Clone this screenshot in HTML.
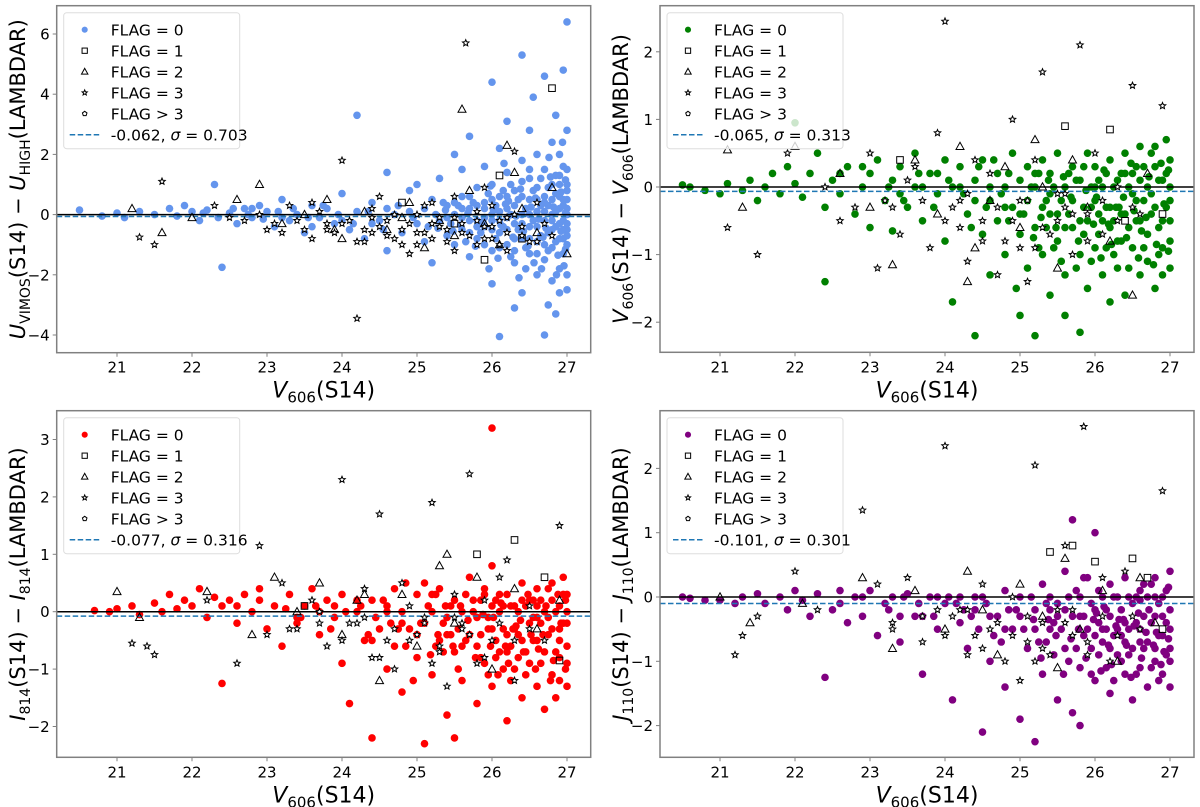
<!DOCTYPE html>
<html><head><meta charset="utf-8"><style>
html,body{margin:0;padding:0;background:#fff;}
svg{display:block;font-family:"DejaVu Sans","Liberation Sans",sans-serif;}
</style></head><body>
<svg id="fig" width="1200" height="807" viewBox="0 0 1200 807" xmlns="http://www.w3.org/2000/svg"></svg>
<script>
// ---------- DATA (flat [x,y,x,y,...] arrays) ----------
const xTicks = [21,22,23,24,25,26,27];
const uTicks = [-4,-2,0,2,4,6];
const vTicks = [-2,-1,0,1,2];
const iTicks = [-2,-1,0,1,2,3];
const jTicks = [-2,-1,0,1,2];
const means = [-0.062,-0.065,-0.077,-0.101];
const sigmas = [0.703,0.313,0.316,0.301];

const uFlag0 = [20.5,0.15,20.8,-0.05,21.0,0.05,21.1,-0.1,21.3,0.1,21.5,0.0,21.7,0.2,21.8,-0.05,21.9,0.3,22.0,0.1,22.1,-0.2,22.2,0.15,22.3,1.0,22.4,-1.75,22.5,0.05,22.6,-0.3,22.7,0.2,22.8,-0.1,22.9,0.3,23.0,0.1,23.1,-0.4,23.2,0.5,23.3,-0.2,23.4,0.0,23.5,-0.6,23.6,0.3,23.7,-0.1,23.8,0.2,23.9,-0.3,24.0,0.7,24.1,-0.5,24.2,0.1,24.2,3.3,24.3,-0.8,24.4,0.4,24.5,-0.2,24.6,1.4,24.6,-1.2,24.7,0.0,24.8,-0.6,24.9,0.8,25.0,-0.3,25.0,1.0,25.1,0.2,25.1,-0.9,25.2,-1.6,25.2,0.5,25.3,-0.2,25.3,1.2,25.4,-0.7,25.4,0.3,25.5,2.0,25.5,-1.0,25.5,0.0,25.6,0.6,25.6,-0.5,25.6,1.5,25.7,-1.4,25.7,0.2,25.7,2.6,25.8,-0.2,25.8,0.9,25.8,-0.8,25.9,1.6,25.9,-0.4,25.9,0.4,26.0,4.4,26.0,-1.2,26.0,0.0,26.0,1.0,26.0,-2.3,26.1,-4.05,26.1,0.6,26.1,-0.6,26.1,2.2,26.2,0.2,26.2,-1.0,26.2,1.4,26.2,3.1,26.3,-0.3,26.3,0.8,26.3,-1.6,26.3,-3.1,26.4,5.3,26.4,0.0,26.4,1.8,26.4,-0.8,26.4,-2.6,26.5,0.5,26.5,-0.4,26.5,1.2,26.5,-1.3,26.5,2.8,26.55,3.9,26.6,0.1,26.6,-0.9,26.6,0.9,26.6,-2.0,26.6,2.0,26.7,-0.2,26.7,0.6,26.7,-1.5,26.7,1.5,26.7,-4.0,26.7,4.6,26.75,-0.6,26.75,0.3,26.75,-3.0,26.8,1.0,26.8,-1.1,26.8,0.0,26.8,2.4,26.8,-2.2,26.85,3.3,26.85,-0.4,26.85,0.7,26.85,-3.3,26.9,-1.8,26.9,1.3,26.9,-0.8,26.9,0.2,26.9,2.0,26.9,-2.6,26.95,-0.2,26.95,0.5,26.95,-1.3,26.95,1.6,26.95,4.8,27.0,6.4,27.0,0.0,27.0,-1.0,27.0,1.0,27.0,-2.0,27.0,-2.5,27.0,2.8,27.0,0.5,27.0,-0.5,25.6,-0.1,25.7,-0.6,25.7,0.6,25.8,0.3,25.9,-1.0,25.9,-0.1,26.0,0.5,26.0,-0.5,26.1,0.1,26.1,-0.2,26.2,-0.5,26.2,0.6,26.3,0.3,26.3,-0.8,26.4,0.6,26.4,-0.3,26.5,0.0,26.5,-0.8,26.6,0.5,26.6,-0.4,26.7,0.1,26.7,-1.0,26.8,0.5,26.8,-0.5,26.9,-0.3,26.9,0.6,27.0,0.2,27.0,-0.3,27.0,1.5,26.95,-0.8,26.85,1.3,26.65,1.2,26.45,-1.8,26.25,-1.4];
const uFlag0b = [22.15,0.05,22.35,-0.1,22.55,0.2,22.75,0.0,22.95,-0.15,23.15,0.1,23.35,0.2,23.55,-0.1,23.75,0.3,23.95,0.0,24.15,-0.3,24.35,0.1,24.55,-0.5,24.75,0.3,24.95,-0.1,25.15,-0.4,25.25,0.0,25.35,0.4,25.45,-0.3,25.55,0.3,25.65,-0.9,25.75,0.4,25.85,-0.6,25.95,0.7,26.05,-0.8,26.05,0.3,26.15,0.8,26.15,-0.4,26.25,0.0,26.25,1.0,26.35,-0.5,26.35,0.5,26.45,0.2,26.45,-1.1,26.55,-0.2,26.55,0.8,26.65,-0.7,26.65,0.3,26.75,0.9,26.75,-1.2,26.85,0.1,26.85,-0.9,26.95,0.3,26.95,-0.5,27.0,-0.7,27.0,0.8,26.9,1.0,26.8,-0.2,26.7,0.4,26.6,-1.3,26.5,1.5,26.4,1.1,26.3,-1.2,26.2,-0.1,26.1,-1.1,26.0,-0.2,25.9,0.2,25.8,-0.4,25.7,-0.2,25.6,0.2,25.5,0.4,25.4,-0.1,24.9,0.1,24.6,0.2,24.4,-0.3,24.0,-0.2,23.6,-0.4,23.2,-0.1,22.8,0.2];
const uFlag0c = [26.02,0.15,26.12,-0.35,26.22,0.45,26.32,-0.05,26.42,-0.55,26.52,0.25,26.62,-0.15,26.72,-0.45,26.82,0.25,26.92,-0.55,26.98,0.05,26.98,-1.15,26.98,1.15,26.88,-1.35,26.78,1.25,26.68,-0.75,26.58,0.55,26.48,-1.05,26.38,0.85,26.28,-0.75,26.18,0.35,26.08,-1.45,25.98,0.95,25.88,-0.25,25.78,-1.05,25.68,0.05,25.58,-0.35,25.48,-0.55,25.38,0.15,25.28,-0.45,26.92,0.75,26.96,-1.7,26.86,-2.0,26.76,1.9,26.66,-1.8,26.56,-1.6,26.36,-2.1,26.16,1.7,25.96,-1.8,26.94,2.4];
const uFlag1 = [24.8,0.4,25.5,-0.3,26.1,1.3,26.4,-0.8,26.8,4.2,25.9,-1.5];
const uFlag2 = [21.2,0.2,21.6,-0.6,22.0,-0.1,22.6,0.5,22.9,1.0,23.2,-0.3,23.5,0.0,23.8,0.5,24.0,-0.8,24.3,0.1,24.6,-0.5,24.9,0.4,25.1,-1.1,25.3,-0.2,25.5,-0.7,25.7,0.8,25.9,-0.3,26.1,-1.0,26.2,2.3,26.4,0.2,26.6,-0.6,26.8,0.9,27.0,-1.3,24.8,-0.1,25.6,3.5,26.3,1.4,23.9,-0.5];
const uFlag3 = [21.6,1.1,21.3,-0.75,21.5,-1.0,22.3,0.3,22.5,-0.1,22.9,0.0,23.1,-0.3,23.3,0.3,23.5,-0.5,23.7,0.1,23.9,-0.6,24.0,1.8,24.1,-0.2,24.2,-3.45,24.3,-0.9,24.4,0.2,24.5,-0.4,24.6,-0.7,24.7,0.0,24.8,-1.0,24.9,-0.3,25.0,-0.6,25.1,0.3,25.2,-0.8,25.3,-0.1,25.4,-0.5,25.5,0.6,25.5,-1.2,25.6,-0.3,25.65,5.7,25.7,-0.7,25.8,0.1,25.8,-1.0,25.9,-0.4,26.0,-0.8,26.0,0.3,26.1,-0.2,26.2,-0.6,26.2,-1.2,26.3,0.0,26.4,-0.4,26.5,-0.9,26.6,0.4,26.7,-0.3,26.8,-0.7,24.5,0.6,23.8,-0.3,24.9,-1.3,25.3,-0.4,24.4,-0.6,23.6,0.4,24.7,-0.8,25.9,0.9,26.3,2.1,25.2,0.4,23.0,-0.5,22.7,-0.2];
const uFlag3b = [23.2,-0.6,23.4,-0.2,23.6,-0.8,23.8,-0.5,24.0,-0.3,24.2,-0.9,24.4,-0.1,24.6,-0.2,24.8,-0.5,25.0,-1.0,25.0,0.0,25.2,-0.3,25.4,-0.9,25.6,-0.6,25.8,-0.2,26.0,-0.4,26.2,-0.1,26.4,-0.7,26.6,-0.9,25.5,-0.1,24.3,-0.5,25.1,-0.6,25.9,-0.8,26.1,-1.0];

const vFlag0 = [20.5,0.03,20.6,0.0,20.8,-0.05,21.0,-0.1,21.1,0.05,21.3,-0.05,21.4,0.1,21.5,-0.2,21.6,0.0,21.7,0.2,21.8,-0.1,21.9,0.3,22.0,0.05,22.0,0.95,22.1,-0.15,22.2,0.2,22.3,0.5,22.4,-0.3,22.4,-1.4,22.5,0.1,22.6,-0.1,22.7,0.3,22.8,-0.4,22.9,0.0,23.0,0.2,23.0,-0.6,23.1,0.4,23.2,-0.2,23.3,0.1,23.3,-0.65,23.4,0.3,23.5,-0.3,23.6,0.0,23.6,0.5,23.7,-0.5,23.8,0.2,23.9,-0.1,24.0,0.4,24.0,-0.8,24.1,-1.7,24.1,0.0,24.2,0.3,24.3,-0.4,24.4,0.1,24.4,-2.2,24.5,-0.7,24.5,0.4,24.6,-0.2,24.6,-1.3,24.7,0.2,24.7,-0.5,24.8,-1.0,24.8,0.0,24.9,0.5,24.9,-0.3,25.0,-1.9,25.0,-0.7,25.0,0.1,25.1,-1.2,25.1,0.3,25.1,-0.2,25.2,-2.2,25.2,-0.6,25.2,0.0,25.3,-1.0,25.3,0.4,25.3,-0.3,25.4,-1.6,25.4,-0.1,25.4,0.2,25.5,-0.8,25.5,0.5,25.5,-0.4,25.6,-1.3,25.6,0.0,25.6,-1.9,25.7,-0.6,25.7,0.3,25.7,-0.2,25.8,-2.15,25.8,-1.0,25.8,0.1,25.9,-0.5,25.9,0.5,25.9,-1.5,26.0,-0.2,26.0,-0.9,26.0,0.3,26.1,-1.3,26.1,0.0,26.1,-0.5,26.2,0.4,26.2,-1.7,26.2,-0.3,26.3,-0.8,26.3,0.1,26.3,-1.2,26.4,-0.4,26.4,0.5,26.4,-1.6,26.5,-0.1,26.5,-0.9,26.5,0.2,26.6,-1.3,26.6,-0.5,26.6,0.6,26.7,0.0,26.7,-0.7,26.7,-1.1,26.8,0.3,26.8,-0.3,26.8,-1.5,26.9,-0.9,26.9,0.1,26.9,-0.5,27.0,0.4,27.0,-0.2,27.0,-0.8,27.0,-1.2,26.95,0.7,26.85,-1.0,26.75,0.5,26.65,-0.2,26.55,0.3,26.45,-0.6,26.35,0.2,26.25,-0.5,26.15,0.2,26.05,-0.4,25.95,0.0,25.85,-0.3,25.75,-1.2,25.65,0.2,25.45,-0.9,25.35,-0.6,24.95,-1.5,24.85,-0.5,24.65,0.4];
const vFlag0b = [23.25,0.0,23.45,-0.2,23.65,0.2,23.85,-0.3,24.05,0.1,24.25,-0.1,24.35,-0.6,24.45,0.3,24.55,-0.3,24.75,-0.1,24.85,0.2,25.05,-0.4,25.15,0.0,25.25,-0.9,25.25,0.2,25.35,-0.2,25.45,0.0,25.55,-0.2,25.55,-1.1,25.65,-0.4,25.75,0.1,25.85,-0.7,25.85,0.3,25.95,-0.3,25.95,-1.1,26.05,0.1,26.05,-0.7,26.15,-0.3,26.15,-0.9,26.25,0.0,26.25,-1.0,26.35,-0.4,26.35,-0.8,26.45,0.0,26.45,-1.2,26.55,-0.5,26.55,-0.2,26.65,0.3,26.65,-0.9,26.75,-0.4,26.75,-0.1,26.85,0.1,26.85,-0.6,26.95,-0.3,26.95,0.2,27.0,0.0,27.0,-0.5,26.9,-1.3,26.8,0.6,26.6,0.1,26.4,0.2,26.2,-0.6,26.0,0.0,25.8,-0.5,25.6,-0.6,25.4,-0.4,25.2,0.2,25.0,-0.4,24.8,-0.3,24.6,0.0,24.4,-0.2,24.2,0.0,23.9,0.2,23.7,0.0,23.4,-0.1,22.9,0.3,22.6,0.2];
const vFlag0c = [26.02,-0.15,26.12,0.25,26.22,-0.85,26.32,-0.3,26.42,-0.75,26.52,-0.35,26.62,-0.65,26.72,0.15,26.82,-0.85,26.92,-0.25,26.98,-0.95,26.98,0.25,26.88,0.35,26.78,-1.15,26.68,-0.45,26.58,-1.05,26.48,0.35,26.38,-0.15,26.28,-0.3,26.18,-0.55,26.08,-1.05,25.98,-0.55,25.88,-0.05,25.78,-0.8,25.68,-0.15,25.58,0.15,25.48,-0.6,25.38,0.1,25.28,-0.45,25.18,-0.75];
const vFlag1 = [23.4,0.4,25.6,0.9,26.2,0.85,26.4,-0.5,26.9,-0.4];
const vFlag2 = [21.1,0.55,21.3,-0.3,22.0,0.6,22.6,0.2,23.0,-0.3,23.3,-1.15,23.6,0.4,23.9,-0.4,24.2,0.6,24.4,-0.9,24.6,-0.2,24.8,0.3,25.0,-0.6,25.2,0.7,25.5,-1.2,25.7,0.4,25.9,-0.3,26.2,-0.8,26.5,-1.6,26.7,0.2,24.3,-1.4,25.3,0.0];
const vFlag3 = [21.5,-1.0,21.1,-0.6,21.9,0.5,22.4,0.0,22.8,-0.3,23.0,0.5,23.2,-0.2,23.4,-0.7,23.6,0.3,23.8,-0.9,23.9,0.8,24.0,2.45,24.1,-0.3,24.3,-1.1,24.5,-0.5,24.6,0.2,24.8,-0.8,24.9,1.0,25.0,-0.2,25.1,-1.4,25.2,0.4,25.3,1.7,25.4,-0.7,25.6,-0.1,25.7,-1.0,25.8,2.1,25.9,-0.4,26.0,0.5,26.1,-0.7,26.3,0.0,26.5,1.5,26.6,-0.4,26.9,1.2,24.2,-0.6,24.7,-1.3,23.5,0.1,25.5,-0.5,24.4,0.4,23.1,-1.2,22.6,-0.5,25.0,-0.9];
const vFlag3b = [23.3,-0.3,23.7,-0.2,24.0,-0.5,24.2,-0.2,24.5,-0.8,24.7,-0.3,24.9,-0.5,25.1,-0.2,25.3,-0.6,25.5,-0.1,25.7,-0.4,25.9,-0.8,26.1,-0.2,26.3,-0.5,26.5,-0.3,24.3,-0.1,25.2,-0.9,25.6,-0.3];

const iFlag0 = [20.7,0.02,20.9,0.0,21.0,0.05,21.2,0.1,21.3,-0.05,21.5,0.15,21.6,0.0,21.7,0.3,21.8,0.05,21.9,0.2,22.0,0.1,22.1,0.4,22.2,-0.1,22.3,0.25,22.4,-1.25,22.4,0.1,22.5,0.2,22.6,-0.2,22.7,0.3,22.8,0.0,22.9,0.2,23.0,-0.3,23.1,0.1,23.2,-0.6,23.3,0.3,23.4,-0.2,23.5,0.1,23.6,0.4,23.7,-0.4,23.8,0.2,23.9,-0.1,24.0,0.3,24.0,-0.9,24.1,-1.6,24.2,0.0,24.3,-0.5,24.4,-2.2,24.4,0.2,24.5,-0.3,24.6,-1.0,24.6,0.1,24.7,0.4,24.7,-0.6,24.8,-1.4,24.8,0.0,24.9,-0.3,25.0,0.3,25.0,-0.8,25.1,-2.3,25.1,-0.2,25.1,0.5,25.2,-1.1,25.2,0.0,25.3,-0.5,25.3,0.4,25.4,-1.8,25.4,-0.1,25.5,-2.2,25.5,-0.7,25.5,0.2,25.6,-1.2,25.6,0.0,25.7,-0.4,25.7,0.6,25.8,-1.6,25.8,-0.1,25.9,0.3,25.9,-0.9,26.0,3.2,26.0,-0.3,26.0,0.8,26.0,-1.3,26.1,0.0,26.1,-0.7,26.2,-1.9,26.2,0.3,26.2,-0.4,26.3,-1.0,26.3,0.1,26.4,-0.5,26.4,0.5,26.4,-1.5,26.5,-0.2,26.5,-0.9,26.5,0.2,26.6,-1.3,26.6,-0.5,26.6,0.4,26.7,0.0,26.7,-0.7,26.7,-1.7,26.8,0.2,26.8,-0.3,26.8,-1.1,26.9,-0.8,26.9,0.1,26.9,-0.5,27.0,0.3,27.0,-0.2,27.0,-0.9,27.0,-1.3,26.95,0.6,26.85,-1.5,26.75,0.4,26.65,-0.2,26.55,0.2,26.45,-0.7,26.35,0.0,26.25,-0.6,26.15,0.1,26.05,-0.5,25.95,-0.1,25.85,-0.4,25.75,0.0,25.65,0.3,25.45,-0.4,25.35,-0.7,24.95,-1.2,24.85,0.5,24.65,-0.2,26.3,-0.3,26.6,-0.1,26.9,-0.3,25.9,0.4,26.1,0.3];
const iFlag0b = [23.25,0.05,23.45,-0.1,23.65,0.1,23.85,-0.3,24.05,0.0,24.25,0.1,24.35,-0.4,24.45,-0.1,24.55,0.2,24.75,-0.3,24.85,-0.6,25.05,-0.2,25.15,0.1,25.25,-0.6,25.25,0.3,25.35,-0.2,25.45,0.1,25.55,-0.3,25.55,-1.0,25.65,-0.5,25.75,0.2,25.85,-0.8,25.85,0.2,25.95,-0.3,25.95,-1.1,26.05,0.2,26.05,-0.8,26.15,-0.3,26.15,-1.0,26.25,0.1,26.25,-1.2,26.35,-0.4,26.35,-0.8,26.45,0.1,26.45,-1.1,26.55,-0.5,26.55,-0.1,26.65,0.2,26.65,-0.9,26.75,-0.4,26.75,-0.1,26.85,0.0,26.85,-0.7,26.95,-0.2,26.95,0.3,27.0,0.0,27.0,-0.6,26.9,-1.2,26.8,0.5,26.6,0.1,26.4,0.2,26.2,-0.7,26.0,0.1,25.8,-0.6,25.6,-0.6,25.4,-0.4,25.2,0.3,25.0,-0.4,24.8,-0.2,24.6,0.0,24.4,-0.5,24.2,0.2,23.9,0.1,23.7,0.0,23.4,-0.1,22.9,0.4,22.6,0.1];
const iFlag0c = [26.02,-0.1,26.12,0.15,26.22,-0.9,26.32,-0.25,26.42,-0.7,26.52,-0.4,26.62,-0.65,26.72,0.1,26.82,-0.85,26.92,-0.2,26.98,-1.0,26.98,0.2,26.88,0.3,26.78,-1.2,26.68,-0.4,26.58,-1.0,26.48,0.3,26.38,-0.15,26.28,-0.3,26.18,-0.6,26.08,-1.1,25.98,-0.6,25.88,-0.05,25.78,-0.8,25.68,-0.15,25.58,0.1,25.48,-0.6,25.38,0.1,25.28,-0.4,25.18,-0.75];
const iFlag1 = [23.5,0.1,25.8,1.0,26.3,1.25,26.7,0.6,26.9,-0.85];
const iFlag2 = [21.0,0.35,21.3,-0.1,22.2,0.35,22.8,-0.4,23.1,0.6,23.4,0.0,23.7,0.5,24.0,-0.4,24.2,0.2,24.5,-1.2,24.8,0.3,25.0,-0.6,25.3,0.8,25.5,-0.2,25.8,0.6,26.0,-1.0,26.3,0.4,26.6,-0.3,26.9,0.2,24.3,0.3,25.4,1.0];
const iFlag3 = [21.4,-0.6,21.5,-0.75,21.2,-0.55,22.2,0.2,22.9,1.15,23.2,0.5,23.4,-0.3,23.6,0.2,23.8,-0.6,24.0,2.3,24.1,-0.2,24.3,0.4,24.5,1.7,24.6,-0.5,24.7,-1.0,24.9,0.1,25.0,-0.4,25.2,1.9,25.3,-0.7,25.5,0.3,25.6,-0.2,25.7,2.4,25.8,-0.9,25.9,0.2,26.0,-0.5,26.1,0.6,26.3,-1.2,26.5,0.1,26.7,-0.5,26.9,1.5,22.6,-0.9,23.0,-0.4,24.4,-0.8,25.4,-1.3,26.2,0.9,25.1,-0.1,24.8,0.5,23.7,0.0];
const iFlag3b = [23.3,-0.3,23.7,-0.2,24.0,-0.5,24.2,-0.2,24.5,-0.8,24.7,-0.3,24.9,-0.5,25.1,-0.2,25.3,-0.6,25.5,-0.1,25.7,-0.4,25.9,-0.8,26.1,-0.2,26.3,-0.5,26.5,-0.3,24.3,-0.1,25.2,-0.9,25.6,-0.3];

const jFlag0 = [20.5,0.0,20.6,-0.02,20.8,-0.05,21.0,-0.05,21.2,-0.1,21.3,0.0,21.5,0.05,21.6,-0.1,21.8,0.0,21.9,-0.2,22.0,0.1,22.1,-0.05,22.2,-0.3,22.3,0.05,22.4,-1.25,22.5,-0.2,22.6,0.1,22.7,-0.4,22.8,0.0,22.9,-0.3,23.0,0.1,23.1,-0.6,23.2,-0.1,23.3,0.0,23.4,-0.7,23.5,0.05,23.6,-0.3,23.7,-1.2,23.8,0.0,23.9,-0.5,24.0,-0.1,24.1,-1.6,24.2,0.0,24.3,-0.8,24.4,-0.2,24.5,-2.1,24.5,0.0,24.6,-1.0,24.7,-0.3,24.8,0.1,24.8,-1.4,24.9,-0.5,25.0,-1.9,25.0,0.0,25.1,-0.8,25.2,-2.25,25.2,-0.2,25.3,0.2,25.3,-1.2,25.4,-0.5,25.4,0.0,25.5,-1.6,25.5,-0.1,25.6,0.4,25.6,-0.8,25.7,-1.8,25.7,-0.3,25.7,1.2,25.8,0.0,25.8,-1.1,25.8,-2.0,25.9,-0.5,25.9,0.3,26.0,-0.2,26.0,-1.3,26.0,1.0,26.1,0.0,26.1,-0.7,26.2,-1.5,26.2,0.2,26.2,-0.3,26.3,-0.9,26.3,0.0,26.4,-0.4,26.4,0.3,26.4,-1.2,26.5,-0.1,26.5,-0.8,26.5,-1.6,26.6,0.1,26.6,-0.5,26.6,-1.1,26.7,0.0,26.7,-0.7,26.7,-1.4,26.8,0.3,26.8,-0.3,26.8,-1.0,26.9,-0.6,26.9,0.0,26.9,-1.2,27.0,0.4,27.0,-0.2,27.0,-0.8,27.0,-1.0,26.95,-0.4,26.85,-0.6,26.75,0.2,26.65,-0.3,26.55,0.0,26.45,-0.5,26.35,-0.2,26.25,-0.6,26.15,-0.2,26.05,-0.4,25.95,-0.1,25.85,-0.3,25.75,-0.8,25.65,0.0,25.45,-0.4,25.35,-0.7,24.95,-0.2,24.65,-0.6,24.35,-0.3,24.15,-0.1,26.6,-0.05,26.3,-0.5,26.8,-0.8,26.1,-0.5,25.5,-0.3];
const jFlag0b = [23.25,-0.2,23.45,0.0,23.65,-0.1,23.85,-0.3,24.05,0.0,24.25,-0.2,24.45,-0.5,24.55,-0.1,24.75,-0.7,24.85,-0.2,25.05,-0.5,25.15,0.0,25.25,-0.7,25.35,-0.1,25.45,-0.9,25.55,-0.5,25.65,-1.0,25.75,0.1,25.85,-0.6,25.85,0.3,25.95,-0.8,25.95,-1.2,26.05,0.1,26.05,-0.9,26.15,-0.5,26.15,-1.1,26.25,0.0,26.25,-1.3,26.35,-0.6,26.35,-1.0,26.45,0.0,26.45,-0.9,26.55,-0.4,26.55,-1.2,26.65,0.2,26.65,-0.8,26.75,-0.4,26.75,-1.1,26.85,-0.1,26.85,-1.3,26.95,-0.9,26.95,0.1,27.0,-0.5,27.0,-1.4,26.9,-0.3,26.8,0.0,26.6,-0.7,26.4,-0.7,26.2,-0.8,26.0,-0.6,25.8,-0.3,25.6,-0.2,25.4,-0.2,25.2,-0.5,25.0,-0.3,24.8,-0.5,24.6,-0.3,24.4,0.0,24.2,-0.4,23.9,0.0,23.7,-0.3,23.4,-0.3,22.9,0.0,22.6,-0.1];
const jFlag0c = [26.02,-0.25,26.12,-0.15,26.22,-1.05,26.32,-0.35,26.42,-0.75,26.52,-0.45,26.62,-0.95,26.72,-0.2,26.82,-0.55,26.92,-0.85,26.98,-0.65,26.98,0.15,26.88,-1.05,26.78,-0.75,26.68,-0.55,26.58,-0.25,26.48,-1.25,26.38,-0.35,26.28,-0.45,26.18,-0.75,26.08,-1.15,25.98,-0.35,25.88,-0.95,25.78,-0.5,25.68,-0.65,25.58,-1.2,25.48,-0.6,25.38,-0.35,25.28,-0.95,25.18,-0.35];
const jFlag1 = [25.4,0.7,25.7,0.8,26.0,0.55,26.5,0.6,26.9,-0.5,26.7,0.3];
const jFlag2 = [21.0,0.0,21.4,-0.4,22.1,-0.1,22.9,0.3,23.3,-0.8,23.6,0.1,24.0,-0.5,24.3,0.4,24.7,-0.9,25.0,0.2,25.3,-0.3,25.6,0.6,25.8,-0.5,26.1,0.1,26.3,-1.0,26.6,0.3,26.8,-0.4,25.5,-1.1,24.5,-0.2];
const jFlag3 = [21.3,-0.6,21.5,-0.3,21.2,-0.9,22.0,0.4,22.3,-0.2,22.9,1.35,23.1,0.2,23.3,-0.4,23.5,0.3,23.7,-0.7,24.0,2.35,24.1,-0.3,24.3,-0.9,24.5,0.2,24.6,-0.5,24.8,-1.0,24.9,0.0,25.0,-1.3,25.2,2.05,25.3,-0.4,25.4,-0.9,25.6,0.8,25.7,-0.2,25.85,2.65,25.9,-0.7,26.1,0.3,26.2,-1.0,26.4,0.4,26.6,-0.5,26.9,1.65,24.4,-0.6,25.1,-0.7,23.9,-0.2];
const jFlag3b = [23.3,-0.5,23.7,-0.3,24.0,-0.6,24.2,-0.2,24.5,-0.8,24.7,-0.4,24.9,-0.6,25.1,-0.3,25.3,-0.8,25.5,-0.2,25.7,-0.6,25.9,-0.9,26.1,-0.3,26.3,-0.6,26.5,-0.3,24.3,-0.2,25.2,-1.0,25.6,-0.4];

// ---------- DRAWING ----------
const NS = "http://www.w3.org/2000/svg";
const svg = document.getElementById('fig');
function mk(tag, attrs, parent){
  const e = document.createElementNS(NS, tag);
  for (const k in attrs) e.setAttribute(k, attrs[k]);
  (parent||svg).appendChild(e);
  return e;
}
function starPath(cx, cy, r){
  let d = '';
  for (let i=0;i<10;i++){
    const rr = i%2===0 ? r : r*0.45;
    const a = -Math.PI/2 + i*Math.PI/5;
    d += (i===0?'M':'L') + (cx+rr*Math.cos(a)).toFixed(2) + ',' + (cy+rr*Math.sin(a)).toFixed(2);
  }
  return d+'Z';
}
function marker(g, kind, px, py, color, scale){
  const s = scale||1;
  let e;
  if (kind===0){
    e = mk('circle',{cx:px,cy:py,r:3.8*s,fill:color},g);
  } else if (kind===1){
    e = mk('rect',{x:px-3.3*s,y:py-3.3*s,width:6.6*s,height:6.6*s,fill:'none',stroke:'#000','stroke-width':1},g);
  } else if (kind===2){
    e = mk('path',{d:`M${px},${py-4.2*s}L${px+4*s},${py+3*s}L${px-4*s},${py+3*s}Z`,fill:'none',stroke:'#000','stroke-width':1},g);
  } else if (kind===3){
    e = mk('path',{d:starPath(px,py,3.4*s),fill:'#fff',stroke:'#000','stroke-width':1},g);
  } else {
    const pts=[];
    for(let i=0;i<5;i++){const a=-Math.PI/2+i*2*Math.PI/5;pts.push((px+3*s*Math.cos(a)).toFixed(2)+','+(py+3*s*Math.sin(a)).toFixed(2));}
    e = mk('polygon',{points:pts.join(' '),fill:'none',stroke:'#000','stroke-width':1},g);
  }
  return e;
}

const panels = [
  {name:'u-panel', L:56.7, R:590.7, T:5.7, B:352.7, x21:117, y0:214.6, py:30.1, ticks:uTicks, color:'#6495ED',
   f0:uFlag0.concat(uFlag0b,uFlag0c),f1:uFlag1,f2:uFlag2,f3:uFlag3.concat(uFlag3b), band:'U', sub1:'VIMOS', sub2:'HIGH', ylabX:25},
  {name:'v-panel', L:660, R:1194, T:5.7, B:352.3, x21:720, y0:187, py:67.6, ticks:vTicks, color:'#008000',
   f0:vFlag0.concat(vFlag0b,vFlag0c),f1:vFlag1,f2:vFlag2,f3:vFlag3.concat(vFlag3b), band:'V', sub1:'606', sub2:'606', ylabX:628},
  {name:'i-panel', L:56.7, R:590.7, T:410.7, B:757.3, x21:117, y0:611.7, py:57.4, ticks:iTicks, color:'#FF0000',
   f0:iFlag0.concat(iFlag0b,iFlag0c),f1:iFlag1,f2:iFlag2,f3:iFlag3.concat(iFlag3b), band:'I', sub1:'814', sub2:'814', ylabX:25},
  {name:'j-panel', L:660, R:1194, T:410.7, B:757.3, x21:720, y0:597, py:64.3, ticks:jTicks, color:'#800080',
   f0:jFlag0.concat(jFlag0b,jFlag0c),f1:jFlag1,f2:jFlag2,f3:jFlag3.concat(jFlag3b), band:'J', sub1:'110', sub2:'110', ylabX:628}
];

panels.forEach((p, pi) => {
  const xs = v => p.x21 + 75*(v-21);
  const ys = v => p.y0 - p.py*v;
  const g = mk('g',{});
  
  
  const clipId = 'clip'+pi;
  const cp = mk('clipPath',{id:clipId},g);
  mk('rect',{x:p.L,y:p.T,width:p.R-p.L,height:p.B-p.T},cp);
  const plot = mk('g',{'clip-path':`url(#${clipId})`},g);
  
  

  const s0 = mk('g',{},plot);
  
  
  for (let k=0;k<p.f0.length;k+=2){
    const m = marker(s0,0,xs(p.f0[k]),ys(p.f0[k+1]),p.color);
    
    
  }
  const zl = mk('line',{x1:p.L,x2:p.R,y1:ys(0),y2:ys(0),stroke:'#000','stroke-width':1.5},plot);
  
  
  const ml = mk('line',{x1:p.L,x2:p.R,y1:ys(means[pi]),y2:ys(means[pi]),stroke:'#1f77b4','stroke-width':1.5,'stroke-dasharray':'5.5,2.5'},plot);
  
  
  [[p.f1,1,'flag1-points'],[p.f2,2,'flag2-points'],[p.f3,3,'flag3-points']].forEach(([arr,kind,nm]) => {
    const sg = mk('g',{},plot);
    
    
    for (let k=0;k<arr.length;k+=2){
      const m = marker(sg,kind,xs(arr[k]),ys(arr[k+1]));
      
      
    }
  });

  const fr = mk('rect',{x:p.L,y:p.T,width:p.R-p.L,height:p.B-p.T,fill:'none',stroke:'#808080','stroke-width':1.5},g);
  
  

  xTicks.forEach(t => {
    const x = xs(t);
    mk('line',{x1:x,x2:x,y1:p.B,y2:p.B+4,stroke:'#808080','stroke-width':1},g);
    const tl = mk('text',{x:x,y:p.B+20,'text-anchor':'middle','font-size':15,fill:'#000'},g);
    tl.textContent = t;
    
    
  });
  p.ticks.forEach(t => {
    const y = ys(t);
    mk('line',{x1:p.L-4,x2:p.L,y1:y,y2:y,stroke:'#808080','stroke-width':1},g);
    const tl = mk('text',{x:p.L-7,y:y+5.5,'text-anchor':'end','font-size':15,fill:'#000'},g);
    tl.textContent = t<0 ? '\u2212'+Math.abs(t) : String(t);
    
    
  });

  const xl = mk('text',{x:(p.L+p.R)/2,y:p.B+45,'text-anchor':'middle','font-size':22,fill:'#000'},g);
  xl.innerHTML = '<tspan font-style="italic">V</tspan><tspan font-size="15" dy="5">606</tspan><tspan dy="-5">(S14)</tspan>';
  
  

  const cy = (p.T+p.B)/2;
  const yl = mk('text',{x:0,y:0,'text-anchor':'middle','font-size':21,fill:'#000',transform:`translate(${p.ylabX},${cy}) rotate(-90)`},g);
  yl.innerHTML = `<tspan font-style="italic">${p.band}</tspan><tspan font-size="14" dy="5">${p.sub1}</tspan><tspan dy="-5">(S14) \u2212 </tspan><tspan font-style="italic">${p.band}</tspan><tspan font-size="14" dy="5">${p.sub2}</tspan><tspan dy="-5">(LAMBDAR)</tspan>`;
  
  

  const lg = mk('g',{},g);
  
  
  const lx = p.L+7, ly = p.T+7;
  mk('rect',{x:lx,y:ly,width:176,height:136,rx:3,fill:'#fff','fill-opacity':0.8,stroke:'#dddddd','stroke-width':1},lg);
  const labels = ['FLAG = 0','FLAG = 1','FLAG = 2','FLAG = 3','FLAG > 3'];
  labels.forEach((lab,i) => {
    const ry = ly+17+i*21;
    const em = marker(lg,i===4?4:i,lx+21,ry,p.color,0.8);
    
    
    const tt = mk('text',{x:lx+47,y:ry+6,'font-size':15.5,fill:'#000'},lg);
    tt.textContent = lab;
    
    
  });
  const ry = ly+17+5*21;
  mk('line',{x1:lx+6,x2:lx+36,y1:ry,y2:ry,stroke:'#1f77b4','stroke-width':1.5,'stroke-dasharray':'5.5,2.5'},lg);
  const mt = mk('text',{x:lx+47,y:ry+6,'font-size':15.5,fill:'#000'},lg);
  mt.innerHTML = `${means[pi].toFixed(3)}, <tspan font-style="italic">\u03C3</tspan> = ${sigmas[pi].toFixed(3)}`;
  
  
});
</script>
</body></html>
